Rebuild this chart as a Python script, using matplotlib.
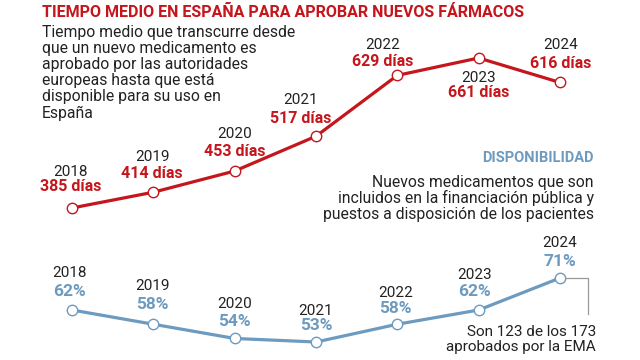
import matplotlib.pyplot as plt

# Datos
years = [2018, 2019, 2020, 2021, 2022, 2023, 2024]
dias = [385, 414, 453, 517, 629, 661, 616]
disponibilidad = [62, 58, 54, 53, 58, 62, 71]

red = '#c4161c'
blue = '#6d9bc0'
grey = '#999999'
dark = '#222222'

plt.rcParams['font.family'] = ['Roboto', 'DejaVu Sans']

fig = plt.figure(figsize=(6.4, 3.6), dpi=100)

# Eje para la serie roja (días)
ax1 = fig.add_axes([0, 0, 1, 1])
ax1.set_xlim(2017.115, 2024.984)
ax1.set_ylim(105.3, 767.7)
ax1.axis('off')

# Eje para la serie azul (porcentaje)
ax2 = fig.add_axes([0, 0, 1, 1])
ax2.set_xlim(2017.115, 2024.984)
ax2.set_ylim(47.94, 149.2)
ax2.axis('off')
ax2.patch.set_alpha(0)

ax1.plot(years, dias, color=red, lw=2.3, marker='o', ms=7.5,
         mfc='white', mec=red, mew=1, zorder=3)
ax2.plot(years, disponibilidad, color=blue, lw=2.3, marker='o', ms=7.5,
         mfc='white', mec=blue, mew=1, zorder=3)

# desplazamientos de etiquetas en pixeles: (dx, dy_año, dy_valor)
red_off = [(-1, 36, 21), (-1, 35, 19), (0, 37, 20), (-15, 36, 18),
           (-15, 30, 14), (0, -20, -35), (1, 37, 19)]
blue_off = [(-2, 37, 19), (-1, 38, 20), (0, 34, 17), (0, 31, 17),
            (-2, 31, 16), (-4, 35, 19), (0, 35, 17)]

for x, v, (dx, dy1, dy2) in zip(years, dias, red_off):
    ax1.annotate(str(x), (x, v), xytext=(dx, dy1), textcoords='offset pixels',
                 ha='center', va='center', fontsize=11, color=dark)
    ax1.annotate(f'{v} días', (x, v), xytext=(dx, dy2), textcoords='offset pixels',
                 ha='center', va='center', fontsize=11.5, color=red, fontweight='bold')

for x, v, (dx, dy1, dy2) in zip(years, disponibilidad, blue_off):
    ax2.annotate(str(x), (x, v), xytext=(dx, dy1), textcoords='offset pixels',
                 ha='center', va='center', fontsize=11, color=dark)
    ax2.annotate(f'{v}%', (x, v), xytext=(dx, dy2), textcoords='offset pixels',
                 ha='center', va='center', fontsize=12.5, color=blue, fontweight='bold')

# Titulo y textos
fig.text(42 / 640, 1 - 12 / 360, 'TIEMPO MEDIO EN ESPAÑA PARA APROBAR NUEVOS FÁRMACOS',
         ha='left', va='center', fontsize=11.5, fontweight='bold', color=red,
         family=['Liberation Sans Narrow', 'Roboto', 'DejaVu Sans'])

left_lines = ['Tiempo medio que transcurre desde', 'que un nuevo medicamento es',
              'aprobado por las autoridades', 'europeas hasta que está',
              'disponible para su uso en', 'España']
for i, line in enumerate(left_lines):
    fig.text(42 / 640, 1 - (33 + 16 * i) / 360, line, ha='left', va='center',
             fontsize=11.3, color=dark)

fig.text(594 / 640, 1 - 158 / 360, 'DISPONIBILIDAD', ha='right', va='center',
         fontsize=10.5, fontweight='bold', color=blue,
         family=['Liberation Sans Narrow', 'Roboto', 'DejaVu Sans'])

right_lines = ['Nuevos medicamentos que son', 'incluidos en la financiación pública y',
               'puestos a disposición de los pacientes']
for i, line in enumerate(right_lines):
    fig.text(594 / 640, 1 - (182 + 16 * i) / 360, line, ha='right', va='center',
             fontsize=11.3, color=dark)

# Nota 2024
fig.add_artist(plt.Line2D([565 / 640, 588 / 640, 588 / 640],
                          [1 - 278 / 360, 1 - 278 / 360, 1 - 314 / 360],
                          color=grey, lw=0.9, zorder=1))
note_lines = ['Son 123 de los 173', 'aprobados por la EMA']
for i, line in enumerate(note_lines):
    fig.text(596 / 640, 1 - (332 + 15 * i) / 360, line, ha='right', va='center',
             fontsize=11, color=dark)

fig.savefig('out.png', dpi=100)
